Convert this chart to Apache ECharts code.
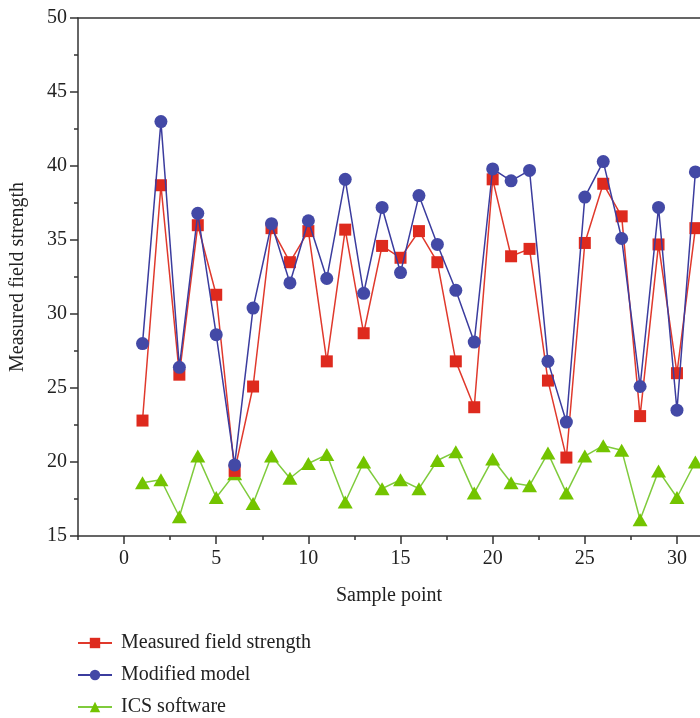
<!DOCTYPE html>
<html>
<head>
<meta charset="utf-8">
<title>Field strength</title>
<script src="https://cdn.jsdelivr.net/npm/echarts@6/dist/echarts.min.js"></script>
<style>
    html, body { margin: 0; padding: 0; background: #fff; }
    #chart { width: 700px; height: 718px; }
</style>
</head>
<body>
<div id="chart"></div>
<script>
const samplePoints = [1, 2, 3, 4, 5, 6, 7, 8, 9, 10, 11, 12, 13, 14, 15, 16, 17, 18, 19, 20, 21, 22, 23, 24, 25, 26, 27, 28, 29, 30, 31]
const measured = [22.8, 38.7, 25.9, 36.0, 31.3, 19.4, 25.1, 35.8, 33.5, 35.6, 26.8, 35.7, 28.7, 34.6, 33.8, 35.6, 33.5, 26.8, 23.7, 39.1, 33.9, 34.4, 25.5, 20.3, 34.8, 38.8, 36.6, 23.1, 34.7, 26.0, 35.8]
const modified = [28.0, 43.0, 26.4, 36.8, 28.6, 19.8, 30.4, 36.1, 32.1, 36.3, 32.4, 39.1, 31.4, 37.2, 32.8, 38.0, 34.7, 31.6, 28.1, 39.8, 39.0, 39.7, 26.8, 22.7, 37.9, 40.3, 35.1, 25.1, 37.2, 23.5, 39.6]
const icsSoftware = [18.6, 18.8, 16.3, 20.4, 17.6, 19.2, 17.2, 20.4, 18.9, 19.9, 20.5, 17.3, 20.0, 18.2, 18.8, 18.2, 20.1, 20.7, 17.9, 20.2, 18.6, 18.4, 20.6, 17.9, 20.4, 21.1, 20.8, 16.1, 19.4, 17.6, 20.0]
const xTickLabels = [0, 5, 10, 15, 20, 25, 30]
const xMinorTicks = [-2.5, 2.5, 7.5, 12.5, 17.5, 22.5, 27.5]

const pair = (vals) => samplePoints.map((x, i) => [x, vals[i]])

const font = '"Liberation Serif", "DejaVu Serif", serif'
const axisColor = '#333'

const init = () => {
    let chartDom = document.getElementById('chart')
    let myChart = echarts.init(chartDom)

    let option = {
        animation: false,
        textStyle: { fontFamily: font },
        grid: { left: 76, top: 18, right: 0, bottom: 182 },
        legend: {
            orient: 'vertical',
            left: 77,
            top: 633,
            height: 90,
            padding: 0,
            itemWidth: 34,
            itemHeight: 13,
            itemGap: 12,
            textStyle: { fontFamily: font, fontSize: 20, color: '#222', lineHeight: 20, padding: [0, 0, 0, 4] },
            data: ['Measured field strength', 'Modified model', 'ICS software'],
        },
        xAxis: [
            {
                type: 'value',
                min: -2.5,
                max: 31.25,
                interval: 2.5,
                name: 'Sample point',
                nameLocation: 'middle',
                nameGap: 50,
                nameTextStyle: { fontFamily: font, fontSize: 20, color: '#222' },
                splitLine: { show: false },
                axisLine: { show: true, onZero: false, lineStyle: { color: axisColor, width: 1.5 } },
                axisTick: { show: true, length: 8, customValues: xTickLabels, lineStyle: { color: axisColor, width: 1.5 } },
                axisLabel: { customValues: xTickLabels, fontFamily: font, fontSize: 20, color: '#222', margin: 13 },
            },
            {
                type: 'value',
                position: 'bottom',
                min: -2.5,
                max: 31.25,
                interval: 2.5,
                splitLine: { show: false },
                axisLine: { show: false, onZero: false },
                axisTick: { show: true, length: 4, customValues: xMinorTicks, lineStyle: { color: axisColor, width: 1.5 } },
                axisLabel: { show: false },
            },
            {
                type: 'value',
                position: 'top',
                min: -2.5,
                max: 31.25,
                splitLine: { show: false },
                axisLine: { show: true, onZero: false, lineStyle: { color: axisColor, width: 1.5 } },
                axisTick: { show: false },
                axisLabel: { show: false },
            },
        ],
        yAxis: {
            type: 'value',
            min: 15,
            max: 50,
            interval: 5,
            name: 'Measured field strength',
            nameLocation: 'middle',
            nameGap: 50,
            nameTextStyle: { fontFamily: font, fontSize: 20, color: '#222' },
            splitLine: { show: false },
            axisLine: { show: true, onZero: false, lineStyle: { color: axisColor, width: 1.5 } },
            axisTick: { show: true, length: 8, lineStyle: { color: axisColor, width: 1.5 } },
            minorTick: { show: true, splitNumber: 2, length: 4, lineStyle: { color: axisColor, width: 1.5 } },
            axisLabel: { fontFamily: font, fontSize: 20, color: '#222', margin: 11 },
        },
        series: [
            {
                name: 'Measured field strength',
                type: 'line',
                data: pair(measured),
                symbol: 'rect',
                symbolSize: 12,
                itemStyle: { color: '#de2a1e' },
                lineStyle: { color: '#e0392c', width: 1.5 },
                z: 3,
            },
            {
                name: 'Modified model',
                type: 'line',
                data: pair(modified),
                symbol: 'circle',
                symbolSize: 13,
                itemStyle: { color: '#4349a6' },
                lineStyle: { color: '#3b3c9e', width: 1.5 },
                z: 4,
            },
            {
                name: 'ICS software',
                type: 'line',
                data: pair(icsSoftware),
                symbol: 'triangle',
                symbolSize: [15, 13],
                itemStyle: { color: '#73c400' },
                lineStyle: { color: '#7fcb3c', width: 1.5 },
                z: 2,
            },
        ],
    }

    myChart.setOption(option)
}

init()
</script>
</body>
</html>
